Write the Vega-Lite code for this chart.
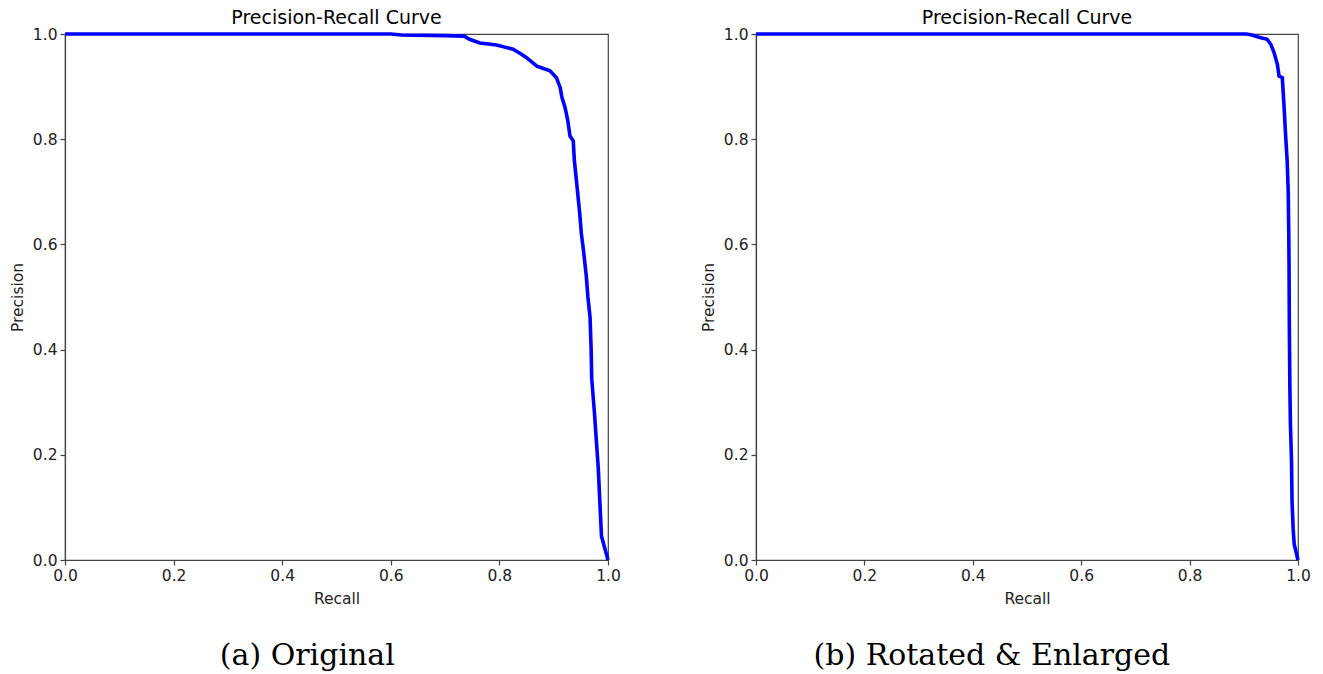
{
  "$schema": "https://vega.github.io/schema/vega-lite/v6.json",
  "padding": {"left": 9, "top": 8, "right": 5, "bottom": 5},
  "background": "white",
  "datasets": {
    "original": [
      {"recall": 0.0, "precision": 1.0},
      {"recall": 0.6, "precision": 1.0},
      {"recall": 0.62, "precision": 0.998},
      {"recall": 0.7, "precision": 0.997},
      {"recall": 0.735, "precision": 0.996},
      {"recall": 0.745, "precision": 0.99},
      {"recall": 0.764, "precision": 0.983},
      {"recall": 0.795, "precision": 0.979},
      {"recall": 0.825, "precision": 0.971},
      {"recall": 0.84, "precision": 0.962},
      {"recall": 0.85, "precision": 0.955},
      {"recall": 0.869, "precision": 0.939},
      {"recall": 0.88, "precision": 0.935},
      {"recall": 0.893, "precision": 0.93},
      {"recall": 0.905, "precision": 0.917},
      {"recall": 0.912, "precision": 0.898},
      {"recall": 0.915, "precision": 0.88},
      {"recall": 0.921, "precision": 0.86},
      {"recall": 0.926, "precision": 0.835},
      {"recall": 0.93, "precision": 0.806},
      {"recall": 0.936, "precision": 0.797},
      {"recall": 0.938, "precision": 0.76},
      {"recall": 0.942, "precision": 0.72},
      {"recall": 0.945, "precision": 0.689},
      {"recall": 0.948, "precision": 0.658},
      {"recall": 0.951, "precision": 0.62},
      {"recall": 0.955, "precision": 0.587},
      {"recall": 0.96, "precision": 0.54},
      {"recall": 0.963, "precision": 0.5},
      {"recall": 0.967, "precision": 0.461},
      {"recall": 0.969, "precision": 0.4},
      {"recall": 0.97, "precision": 0.345},
      {"recall": 0.975, "precision": 0.28},
      {"recall": 0.979, "precision": 0.22},
      {"recall": 0.982, "precision": 0.176},
      {"recall": 0.985, "precision": 0.11},
      {"recall": 0.988, "precision": 0.045},
      {"recall": 1.0, "precision": 0.0}
    ],
    "rotated": [
      {"recall": 0.0, "precision": 1.0},
      {"recall": 0.905, "precision": 1.0},
      {"recall": 0.915, "precision": 0.998},
      {"recall": 0.928, "precision": 0.994},
      {"recall": 0.943, "precision": 0.99},
      {"recall": 0.95, "precision": 0.98},
      {"recall": 0.956, "precision": 0.964},
      {"recall": 0.962, "precision": 0.942},
      {"recall": 0.965, "precision": 0.92},
      {"recall": 0.971, "precision": 0.917},
      {"recall": 0.974, "precision": 0.867},
      {"recall": 0.977, "precision": 0.81},
      {"recall": 0.98, "precision": 0.759},
      {"recall": 0.982, "precision": 0.7},
      {"recall": 0.983, "precision": 0.62},
      {"recall": 0.9835, "precision": 0.556},
      {"recall": 0.984, "precision": 0.45},
      {"recall": 0.985, "precision": 0.33},
      {"recall": 0.986, "precision": 0.259},
      {"recall": 0.988, "precision": 0.19},
      {"recall": 0.989, "precision": 0.112},
      {"recall": 0.991, "precision": 0.06},
      {"recall": 0.993, "precision": 0.03},
      {"recall": 1.0, "precision": 0.0}
    ]
  },
  "hconcat": [
    {
      "title": {"text": "(a) Original", "orient": "bottom", "anchor": "middle", "offset": 26, "dx": -8, "font": "DejaVu Serif", "fontSize": 30, "fontWeight": "normal", "color": "black"},
      "vconcat": [
        {
          "title": {"text": "Precision-Recall Curve"},
          "width": 543,
          "height": 526,
          "data": {"name": "original"},
          "mark": {"type": "line", "color": "#0000ff", "strokeWidth": 3.6, "clip": false},
          "encoding": {
            "x": {"field": "recall", "type": "quantitative", "title": "Recall", "scale": {"domain": [0, 1], "nice": false, "zero": false}, "axis": {"values": [0, 0.2, 0.4, 0.6, 0.8, 1.0]}},
            "y": {"field": "precision", "type": "quantitative", "title": "Precision", "scale": {"domain": [0, 1], "nice": false}, "axis": {"values": [0, 0.2, 0.4, 0.6, 0.8, 1.0]}},
            "order": {"field": "precision", "sort": "descending"}
          }
        }
      ]
    },
    {
      "title": {"text": "(b) Rotated & Enlarged", "orient": "bottom", "anchor": "middle", "offset": 26, "dx": -14, "font": "DejaVu Serif", "fontSize": 30, "fontWeight": "normal", "color": "black"},
      "vconcat": [
        {
          "title": {"text": "Precision-Recall Curve"},
          "width": 542,
          "height": 526,
          "data": {"name": "rotated"},
          "mark": {"type": "line", "color": "#0000ff", "strokeWidth": 3.6, "clip": false},
          "encoding": {
            "x": {"field": "recall", "type": "quantitative", "title": "Recall", "scale": {"domain": [0, 1], "nice": false, "zero": false}, "axis": {"values": [0, 0.2, 0.4, 0.6, 0.8, 1.0]}},
            "y": {"field": "precision", "type": "quantitative", "title": "Precision", "scale": {"domain": [0, 1], "nice": false}, "axis": {"values": [0, 0.2, 0.4, 0.6, 0.8, 1.0]}},
            "order": {"field": "precision", "sort": "descending"}
          }
        }
      ]
    }
  ],
  "spacing": 79,
  "config": {
    "font": "DejaVu Sans",
    "view": {"stroke": "#444", "strokeWidth": 1.2},
    "title": {"font": "DejaVu Sans", "fontSize": 19, "fontWeight": "normal", "color": "black", "offset": 6, "dy": 7},
    "axis": {
      "grid": false,
      "format": ".1f",
      "labelFont": "DejaVu Sans",
      "labelFontSize": 15.5,
      "labelColor": "#222",
      "labelPadding": 3,
      "labelFlush": false,
      "labelOverlap": false,
      "titleFont": "DejaVu Sans",
      "titleFontSize": 15.5,
      "titleFontWeight": "normal",
      "titleColor": "#222",
      "domainColor": "#444",
      "domainWidth": 1.2,
      "tickColor": "#444",
      "tickWidth": 1.2,
      "tickSize": 5
    },
    "axisX": {"titlePadding": 8},
    "axisY": {"titlePadding": 7}
  }
}
